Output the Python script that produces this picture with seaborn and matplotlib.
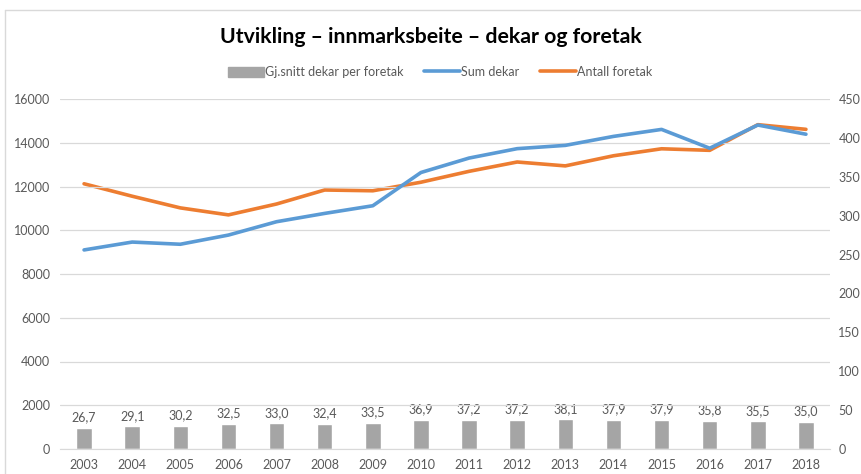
import numpy as np
import pandas as pd
import seaborn as sns
import matplotlib.pyplot as plt
from matplotlib.lines import Line2D
from matplotlib.patches import Patch

years = [str(y) for y in range(2003, 2019)]
snitt_dekar = [26.7, 29.1, 30.2, 32.5, 33.0, 32.4, 33.5, 36.9, 37.2, 37.2, 38.1, 37.9, 37.9, 35.8, 35.5, 35.0]
sum_dekar = [9100, 9460, 9360, 9780, 10390, 10770, 11120, 12640, 13300, 13730, 13880, 14290, 14610, 13750, 14810, 14390]
antall_foretak = [341, 325, 310, 301, 315, 333, 332, 343, 357, 369, 364, 377, 386, 384, 417, 411]

df = pd.DataFrame({"year": years, "snitt": snitt_dekar, "sum": sum_dekar, "antall": antall_foretak})

sns.set_style("white")
plt.rcParams['font.family'] = ['Lato', 'DejaVu Sans']

grey_txt = "#595959"
c_bar = "#A5A5A5"
c_blue = "#5B9BD5"
c_orange = "#ED7D31"

fig = plt.figure(figsize=(8.61, 4.74), dpi=100)
ax = fig.add_axes([60 / 861, 1 - 449 / 474, 770 / 861, 350 / 474])
ax2 = ax.twinx()

# left axis: sum dekar
x = np.arange(len(years))
sns.lineplot(x=x, y=df["sum"], ax=ax, color=c_blue, linewidth=2.6)
ax.set_ylim(0, 16000)
ax.set_yticks(range(0, 16001, 2000))
ax.set_xlim(-0.5, len(years) - 0.5)
ax.set_xticks(x)
ax.set_xticklabels(years)
ax.grid(axis="y", color="#D9D9D9", linewidth=0.9)
ax.set_axisbelow(True)
ax.set_xlabel("")
ax.set_ylabel("")

# right axis: bars + antall foretak
sns.barplot(x=x, y=df["snitt"], ax=ax2, color=c_bar, width=0.32, native_scale=True, saturation=1)
sns.lineplot(x=x, y=df["antall"], ax=ax2, color=c_orange, linewidth=2.6)
ax2.set_ylim(0, 450)
ax2.set_yticks(range(0, 451, 50))
ax2.set_xlim(-0.5, len(years) - 0.5)
ax2.set_ylabel("")
ax2.set_xlabel("")
for i, v in enumerate(snitt_dekar):
    ax2.text(i, v + 6, f"{v:.1f}".replace(".", ","), ha="center", va="bottom",
             fontsize=9, color=grey_txt)

ax.set_zorder(1)
ax.patch.set_visible(False)
ax2.set_zorder(0)
for a in (ax, ax2):
    for s in a.spines.values():
        s.set_visible(False)
    a.tick_params(length=0, labelsize=9, labelcolor=grey_txt)
ax.spines["bottom"].set_visible(True)
ax.spines["bottom"].set_color("#D9D9D9")
ax.tick_params(axis="x", pad=7)
ax.tick_params(axis="y", pad=7)
ax2.tick_params(axis="y", pad=6)

fig.text(431 / 861, 1 - 37 / 474, "Utvikling – innmarksbeite – dekar og foretak",
         ha="center", va="center", fontsize=15.3, fontweight="bold", color="black")

handles = [Patch(color=c_bar),
           Line2D([], [], color=c_blue, linewidth=2.6),
           Line2D([], [], color=c_orange, linewidth=2.6)]
fig.legend(handles, ["Gj.snitt dekar per foretak", "Sum dekar", "Antall foretak"],
           loc="center", bbox_to_anchor=(440 / 861, 1 - 72 / 474), ncol=3, frameon=False,
           fontsize=9, labelcolor=grey_txt, handlelength=2.9, handletextpad=0.1,
           columnspacing=1.6, handleheight=0.9)

# chart border
fig.add_artist(Line2D([5 / 861, 5 / 861], [0, 1 - 10 / 474], transform=fig.transFigure, color="#D9D9D9", linewidth=1))
fig.add_artist(Line2D([5 / 861, 860 / 861], [1 - 10 / 474, 1 - 10 / 474], transform=fig.transFigure, color="#D9D9D9", linewidth=1))

fig.savefig("out.png", dpi=100)
